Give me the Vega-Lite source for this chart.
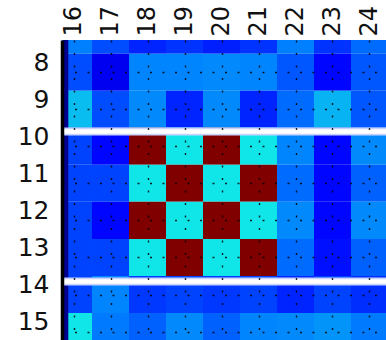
{
  "$schema": "https://vega.github.io/schema/vega-lite/v6.json",
  "width": 324,
  "height": 300,
  "autosize": {"type": "none"},
  "padding": {"left": 62, "top": 40, "right": 0, "bottom": 0},
  "background": "white",
  "config": {"view": {"stroke": null}},
  "datasets": {
    "cells": [
      {"row": 7, "col": 16, "v": 0.25}, {"row": 7, "col": 17, "v": 0.2}, {"row": 7, "col": 18, "v": 0.16}, {"row": 7, "col": 19, "v": 0.175}, {"row": 7, "col": 20, "v": 0.155}, {"row": 7, "col": 21, "v": 0.175}, {"row": 7, "col": 22, "v": 0.25}, {"row": 7, "col": 23, "v": 0.175}, {"row": 7, "col": 24, "v": 0.23},
      {"row": 8, "col": 16, "v": 0.2}, {"row": 8, "col": 17, "v": 0.11}, {"row": 8, "col": 18, "v": 0.255}, {"row": 8, "col": 19, "v": 0.255}, {"row": 8, "col": 20, "v": 0.26}, {"row": 8, "col": 21, "v": 0.255}, {"row": 8, "col": 22, "v": 0.21}, {"row": 8, "col": 23, "v": 0.13}, {"row": 8, "col": 24, "v": 0.21},
      {"row": 9, "col": 16, "v": 0.31}, {"row": 9, "col": 17, "v": 0.2}, {"row": 9, "col": 18, "v": 0.26}, {"row": 9, "col": 19, "v": 0.16}, {"row": 9, "col": 20, "v": 0.26}, {"row": 9, "col": 21, "v": 0.16}, {"row": 9, "col": 22, "v": 0.23}, {"row": 9, "col": 23, "v": 0.3}, {"row": 9, "col": 24, "v": 0.21},
      {"row": 10, "col": 16, "v": 0.19}, {"row": 10, "col": 17, "v": 0.13}, {"row": 10, "col": 18, "v": 1}, {"row": 10, "col": 19, "v": 0.35}, {"row": 10, "col": 20, "v": 1}, {"row": 10, "col": 21, "v": 0.35}, {"row": 10, "col": 22, "v": 0.255}, {"row": 10, "col": 23, "v": 0.13}, {"row": 10, "col": 24, "v": 0.26},
      {"row": 11, "col": 16, "v": 0.19}, {"row": 11, "col": 17, "v": 0.19}, {"row": 11, "col": 18, "v": 0.35}, {"row": 11, "col": 19, "v": 1}, {"row": 11, "col": 20, "v": 0.35}, {"row": 11, "col": 21, "v": 1}, {"row": 11, "col": 22, "v": 0.23}, {"row": 11, "col": 23, "v": 0.13}, {"row": 11, "col": 24, "v": 0.22},
      {"row": 12, "col": 16, "v": 0.19}, {"row": 12, "col": 17, "v": 0.13}, {"row": 12, "col": 18, "v": 1}, {"row": 12, "col": 19, "v": 0.35}, {"row": 12, "col": 20, "v": 1}, {"row": 12, "col": 21, "v": 0.35}, {"row": 12, "col": 22, "v": 0.26}, {"row": 12, "col": 23, "v": 0.13}, {"row": 12, "col": 24, "v": 0.26},
      {"row": 13, "col": 16, "v": 0.19}, {"row": 13, "col": 17, "v": 0.19}, {"row": 13, "col": 18, "v": 0.35}, {"row": 13, "col": 19, "v": 1}, {"row": 13, "col": 20, "v": 0.35}, {"row": 13, "col": 21, "v": 1}, {"row": 13, "col": 22, "v": 0.23}, {"row": 13, "col": 23, "v": 0.14}, {"row": 13, "col": 24, "v": 0.22},
      {"row": 14, "col": 16, "v": 0.19}, {"row": 14, "col": 17, "v": 0.255}, {"row": 14, "col": 18, "v": 0.18}, {"row": 14, "col": 19, "v": 0.19}, {"row": 14, "col": 20, "v": 0.18}, {"row": 14, "col": 21, "v": 0.19}, {"row": 14, "col": 22, "v": 0.16}, {"row": 14, "col": 23, "v": 0.19}, {"row": 14, "col": 24, "v": 0.17},
      {"row": 15, "col": 16, "v": 0.35}, {"row": 15, "col": 17, "v": 0.245}, {"row": 15, "col": 18, "v": 0.22}, {"row": 15, "col": 19, "v": 0.26}, {"row": 15, "col": 20, "v": 0.22}, {"row": 15, "col": 21, "v": 0.255}, {"row": 15, "col": 22, "v": 0.26}, {"row": 15, "col": 23, "v": 0.27}, {"row": 15, "col": 24, "v": 0.245}
    ],
    "hlines": [{"pos": 9.6}, {"pos": 13.65}],
    "vlines": [{"pos": 15.792}]
  },
  "layer": [
    {
      "data": {"name": "cells"},
      "transform": [
        {"calculate": "datum.col - 0.5", "as": "x0"},
        {"calculate": "datum.col + 0.5", "as": "x1"},
        {"calculate": "datum.row - 0.5", "as": "y0"},
        {"calculate": "datum.row + 0.5", "as": "y1"}
      ],
      "mark": {"type": "rect", "clip": true, "strokeWidth": 0},
      "encoding": {
        "x": {
          "field": "x0", "type": "quantitative",
          "scale": {"domain": [15.689, 24.446], "nice": false, "zero": false},
          "axis": {
            "orient": "top", "title": null, "values": [16, 17, 18, 19, 20, 21, 22, 23, 24],
            "domain": false, "ticks": false, "labelAngle": 270, "labelAlign": "left", "labelBaseline": "middle",
            "labelPadding": 4, "labelFont": "DejaVu Sans", "labelFontSize": 24, "labelColor": "#111111",
            "grid": true, "gridColor": "#000000", "gridDash": [2, 10.5], "gridWidth": 1.4, "gridOpacity": 0.85,
            "zindex": 1, "labelFlush": false, "labelOverlap": false
          }
        },
        "x2": {"field": "x1"},
        "y": {
          "field": "y0", "type": "quantitative",
          "scale": {"domain": [7.131, 15.228], "nice": false, "zero": false, "reverse": true},
          "axis": {
            "title": null, "values": [8, 9, 10, 11, 12, 13, 14, 15],
            "domain": true, "domainColor": "#000000", "domainWidth": 3.5, "ticks": false,
            "labelPadding": 13, "labelOffset": -10, "labelFont": "DejaVu Sans", "labelFontSize": 25, "labelColor": "#111111",
            "grid": true, "gridColor": "#000000", "gridDash": [2, 10.5], "gridWidth": 1.4, "gridOpacity": 0.85,
            "zindex": 1, "labelFlush": false, "labelOverlap": false
          }
        },
        "y2": {"field": "y1"},
        "color": {
          "field": "v", "type": "quantitative", "legend": null,
          "scale": {
            "domain": [0, 0.125, 0.25, 0.375, 0.5, 0.625, 0.75, 0.875, 1],
            "range": ["#000080", "#0000ff", "#0080ff", "#14ffe2", "#7bff7b", "#e2ff14", "#ff9700", "#ff2100", "#800000"],
            "interpolate": "rgb"
          }
        }
      }
    },
    {
      "data": {"name": "vlines"},
      "mark": {"type": "rule", "color": "#00008f", "strokeWidth": 5, "clip": true},
      "encoding": {"x": {"field": "pos", "type": "quantitative"}}
    },
    {
      "data": {"name": "hlines"},
      "mark": {"type": "rule", "color": "#c8d4ff", "strokeWidth": 8, "clip": true},
      "encoding": {"y": {"field": "pos", "type": "quantitative"}}
    },
    {
      "data": {"name": "hlines"},
      "mark": {"type": "rule", "color": "#ffffff", "strokeWidth": 4.5, "clip": true},
      "encoding": {"y": {"field": "pos", "type": "quantitative"}}
    }
  ]
}
